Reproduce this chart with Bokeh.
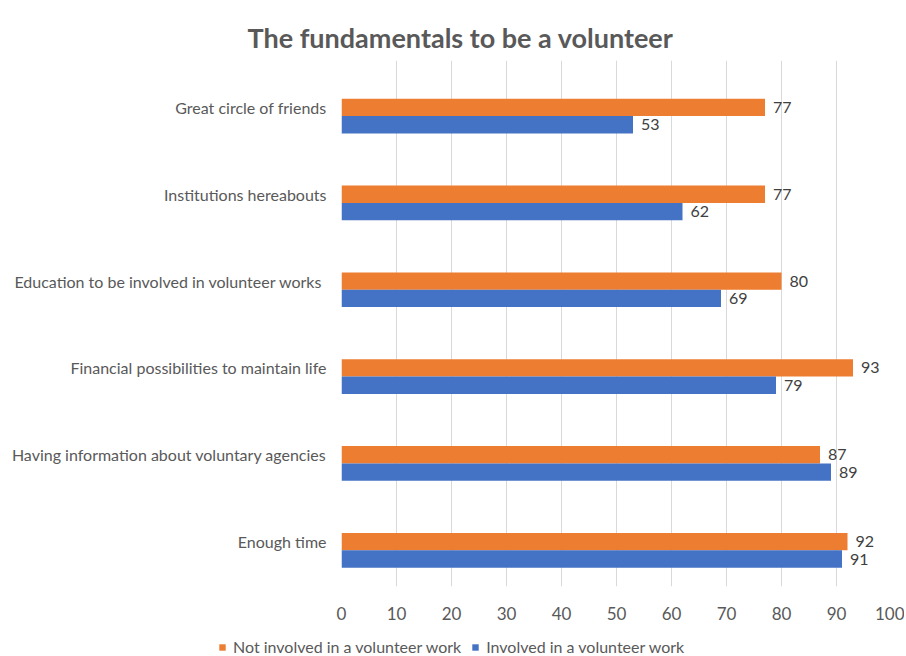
from bokeh.plotting import figure
from bokeh.layouts import column
from bokeh.models import ColumnDataSource, Range1d, FixedTicker, Legend, LegendItem
from bokeh.core.properties import value
from bokeh.embed import file_html
from bokeh.resources import INLINE

# categories listed bottom to top
categories = [
    "Enough time",
    "Having information about voluntary agencies",
    "Financial possibilities to maintain life",
    "Education to be  involved in volunteer works",
    "Institutions hereabouts",
    "Great circle of friends",
]
not_involved = [92, 87, 93, 80, 77, 77]
involved = [91, 89, 79, 69, 62, 53]
series_names = ["Not involved in a volunteer work", "Involved in a volunteer work"]
x_ticks = [0, 10, 20, 30, 40, 50, 60, 70, 80, 90, 100]
title_text = "The fundamentals to be a volunteer"

ORANGE = "#ED7D31"
BLUE = "#4472C4"
GRAY = "#595959"
FONT = "Lato"

pos = list(range(len(categories)))
src = ColumnDataSource(dict(
    y_not=[k for k in pos],
    y_inv=[k - 0.2 for k in pos],
    not_involved=not_involved,
    involved=involved,
    lab_not=[str(v) for v in not_involved],
    lab_inv=[str(v) for v in involved],
))

p = figure(width=904, height=622,
           x_range=Range1d(0, 100), y_range=Range1d(-0.516, 5.539),
           output_backend="svg", toolbar_location=None,
           min_border_left=341, min_border_right=13,
           min_border_top=60, min_border_bottom=34)

p.title.text = title_text
p.title.align = "left"
p.title.offset = -94
p.title.vertical_align = "top"
p.title.text_font = FONT
p.title.text_font_size = "27px"
p.title.text_font_style = "bold"
p.title.text_color = GRAY

r_not = p.hbar(y="y_not", right="not_involved", left=0, height=0.2, source=src,
               fill_color=ORANGE, line_color=None)
r_inv = p.hbar(y="y_inv", right="involved", left=0, height=0.2, source=src,
               fill_color=BLUE, line_color=None)

p.text(x="not_involved", y="y_not", text="lab_not", source=src, x_offset=8,
       text_align="left", text_baseline="middle", text_font=value(FONT),
       text_font_size="16px", text_color="#404040")
p.text(x="involved", y="y_inv", text="lab_inv", source=src, x_offset=8,
       text_align="left", text_baseline="middle", text_font=value(FONT),
       text_font_size="16px", text_color="#404040")

# x axis
p.xaxis.ticker = FixedTicker(ticks=x_ticks)
p.xaxis.axis_line_color = None
p.xaxis.major_tick_line_color = None
p.xaxis.minor_tick_line_color = None
p.xaxis.major_label_standoff = 14
p.xaxis.major_label_text_font = FONT
p.xaxis.major_label_text_font_size = "17px"
p.xaxis.major_label_text_color = GRAY

# y axis
p.yaxis.ticker = FixedTicker(ticks=pos)
p.yaxis.major_label_overrides = {k: c for k, c in zip(pos, categories)}
p.yaxis.axis_line_color = None
p.yaxis.major_tick_line_color = None
p.yaxis.minor_tick_line_color = None
p.yaxis.major_label_standoff = 9
p.yaxis.major_label_text_font = FONT
p.yaxis.major_label_text_font_size = "16px"
p.yaxis.major_label_text_color = GRAY

p.xgrid.grid_line_color = "#D9D9D9"
p.ygrid.grid_line_color = None
p.outline_line_color = None

# legend strip below the chart (its bars lie outside its visible range)
lf = figure(width=904, height=34, x_range=Range1d(0, 100), y_range=Range1d(100, 101),
            x_axis_type=None, y_axis_type=None,
            output_backend="svg", toolbar_location=None,
            min_border_left=0, min_border_right=0, min_border_top=0, min_border_bottom=0)
if "frame_align" in lf.properties():
    lf.frame_align = False
lf.grid.visible = False
lf.outline_line_color = None
lg_not = lf.hbar(y="y_not", right="not_involved", left=0, height=0.2, source=src,
                 fill_color=ORANGE, line_color=None)
lg_inv = lf.hbar(y="y_inv", right="involved", left=0, height=0.2, source=src,
                 fill_color=BLUE, line_color=None)

legend = Legend(items=[LegendItem(label=series_names[0], renderers=[lg_not], index=0),
                       LegendItem(label=series_names[1], renderers=[lg_inv], index=0)],
                location=(218, 0), orientation="horizontal")
legend.glyph_width = 8
legend.glyph_height = 8
legend.label_standoff = 7
legend.spacing = 10
legend.padding = 0
legend.margin = 0
legend.label_height = 18
legend.label_text_font = FONT
legend.label_text_font_size = "16px"
legend.label_text_color = GRAY
legend.border_line_color = None
legend.background_fill_alpha = 0
lf.add_layout(legend, "center")

layout = column(p, lf, spacing=0)
open("out.html", "w").write(file_html(layout, INLINE))
